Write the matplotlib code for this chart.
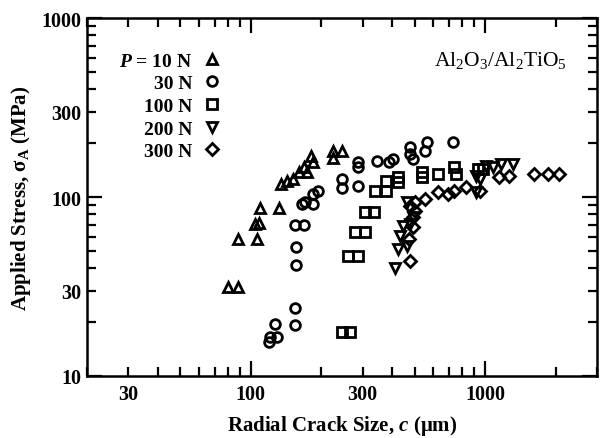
import numpy as np
import matplotlib
matplotlib.use('Agg')
import matplotlib.pyplot as plt
from matplotlib.ticker import LogLocator, FuncFormatter

plt.rcParams['font.family'] = 'Liberation Serif'
plt.rcParams['font.weight'] = 'bold'
plt.rcParams['axes.labelweight'] = 'bold'
plt.rcParams['mathtext.fontset'] = 'custom'
plt.rcParams['mathtext.rm'] = 'Liberation Serif:bold'
plt.rcParams['mathtext.it'] = 'Liberation Serif:italic:bold'
plt.rcParams['mathtext.bf'] = 'Liberation Serif:bold'

# crack size c (um) and applied stress (MPa)
c_10 = [80, 88, 88, 106, 109, 108, 104, 132, 134, 143, 152, 160, 168, 174, 180, 185, 225, 246, 225]
s_10 = [31.4, 31.4, 58, 58, 87, 72, 71, 87, 118, 123, 126, 138, 147, 138, 169, 157, 181, 181, 166]

c_30 = [119, 121, 129, 127, 155, 155, 156, 156, 155, 168, 166, 171, 185, 185, 194,
        246, 246, 288, 288, 288, 347, 387, 406, 480, 480, 490, 567, 556, 726]
s_30 = [15.5, 16.5, 16.5, 19.5, 19.3, 24, 41.7, 52.6, 69.8, 69.8, 91, 94, 91, 104, 108,
        126, 112, 115, 157, 147, 159, 157, 163, 190, 174, 163, 203, 181, 203]

c_100 = [246, 266, 261, 288, 279, 308, 308, 334, 340, 376, 376, 423, 423, 540, 540, 632, 733, 748, 929, 980]
s_100 = [17.6, 17.6, 46.8, 46.8, 63.7, 63.7, 82.5, 82.5, 108, 108, 123, 129, 121, 138, 129, 134, 147, 134, 143, 143]

c_200 = [414, 423, 466, 435, 448, 480, 490, 466, 910, 910, 955, 1004, 1076, 1164, 1310]
s_200 = [40, 51, 53, 60.5, 69, 71, 77, 94, 107, 131, 126, 149, 147, 153, 153]

c_300 = [476, 471, 494, 494, 504, 480, 504, 556, 626, 691, 733, 825, 955, 1140, 1259, 1611, 1849, 2062]
s_300 = [44, 58, 68, 77, 83, 89, 94, 97.5, 107, 104, 108, 114, 108, 129, 131, 134, 134, 134]

labeled_minor = [30, 300]

series = [
    (c_10, s_10, '^', '$P$ = 10 N'),
    (c_30, s_30, 'o', '30 N'),
    (c_100, s_100, 's', '100 N'),
    (c_200, s_200, 'v', '200 N'),
    (c_300, s_300, 'D', '300 N'),
]
sizes = {'^': 7.5, 'o': 7, 's': 6.8, 'v': 7.5, 'D': 6}

fig = plt.figure(figsize=(6.01, 4.39), dpi=100)
ax = fig.add_axes([87/601, 1-377/439, 510/601, 358/439])

for cx, sy, m, lab in series:
    ax.plot(cx, sy, linestyle='none', marker=m, ms=sizes[m], mfc='none',
            mec='black', mew=2.0, label=lab)

ax.set_xscale('log')
ax.set_yscale('log')
ax.set_xlim(20, 3000)
ax.set_ylim(10, 1000)

def major_fmt(v, pos):
    return '%d' % round(v)

def minor_fmt(v, pos):
    for t in labeled_minor:
        if abs(v - t) < 1e-6 * t:
            return '%d' % t
    return ''

for axis in (ax.xaxis, ax.yaxis):
    axis.set_major_locator(LogLocator(base=10))
    axis.set_minor_locator(LogLocator(base=10, subs=np.arange(2, 10)))
    axis.set_major_formatter(FuncFormatter(major_fmt))
    axis.set_minor_formatter(FuncFormatter(minor_fmt))

ax.tick_params(which='both', direction='in', top=True, right=True, width=1.6, labelsize=14.5)
ax.tick_params(which='major', length=11)
ax.tick_params(which='minor', length=6.5)
ax.tick_params(axis='x', which='both', pad=6)
ax.tick_params(axis='y', which='both', pad=4)
for sp in ax.spines.values():
    sp.set_linewidth(1.8)

ax.set_xlabel('Radial Crack Size, $c$ (\u03bcm)', fontsize=15, labelpad=6)
ax.set_ylabel('Applied Stress, \u03c3$\\mathregular{_A}$ (MPa)', fontsize=15, labelpad=6)

ax.text(0.941, 0.885, 'Al$\\mathregular{_2}$O$\\mathregular{_3}$/Al$\\mathregular{_2}$TiO$\\mathregular{_5}$',
        transform=ax.transAxes, ha='right', va='center', fontsize=15.5, fontweight='normal')

ax.legend(loc='upper left', bbox_to_anchor=(0.063, 0.905), frameon=False, markerfirst=False,
          handlelength=0.8, handletextpad=0.6, labelspacing=0.26, borderpad=0, borderaxespad=0,
          fontsize=14)

fig.savefig('out.png', dpi=100)
